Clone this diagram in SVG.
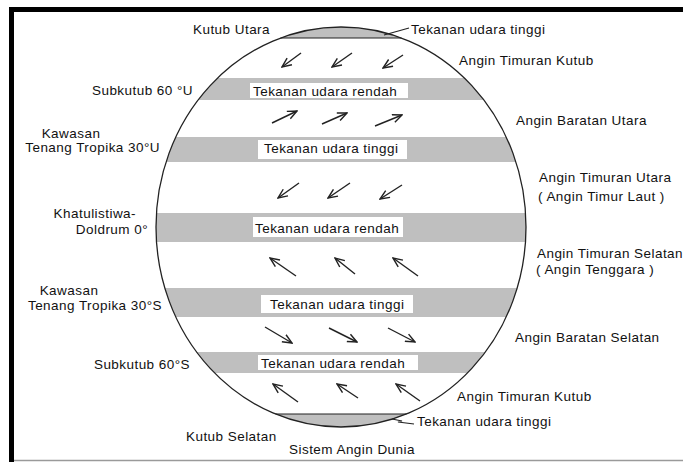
<svg xmlns="http://www.w3.org/2000/svg" width="683" height="462" viewBox="0 0 683 462">
<style>
text{font-family:"Liberation Sans",Arial,sans-serif;font-size:13.5px;letter-spacing:0.45px;fill:#111}
.band{fill:#bfbfbf}
.box{fill:#ffffff}
.line{stroke:#222;stroke-width:1.2;fill:none}
.arr{stroke:#222;stroke-width:1.4;fill:none;marker-end:url(#ah)}
.e{text-anchor:end}
.m{text-anchor:middle}
</style>
<defs>
<clipPath id="globeClip"><ellipse cx="341" cy="227" rx="185" ry="200"/></clipPath>
<marker id="ah" viewBox="0 0 10 10" refX="9" refY="5" markerWidth="11" markerHeight="11" markerUnits="userSpaceOnUse" orient="auto">
<path d="M0.5,1.3 L9,5 L0.5,8.7" fill="none" stroke="#222" stroke-width="1.3"/>
</marker>
</defs>
<rect width="683" height="462" fill="#ffffff"/>
<g id="frame">
<path d="M11.5,462 V9.5 H683" fill="none" stroke="#000" stroke-width="5"/>
<line x1="14" y1="460.5" x2="683" y2="460.5" stroke="#9a9a9a" stroke-width="1.5"/>
</g>
<g id="globe">
<g clip-path="url(#globeClip)">
<rect class="band" x="150" y="20" width="380" height="18"/>
<rect class="band" x="150" y="78" width="380" height="22"/>
<rect class="band" x="150" y="137" width="380" height="25"/>
<rect class="band" x="150" y="213" width="380" height="29"/>
<rect class="band" x="150" y="288" width="380" height="29"/>
<rect class="band" x="150" y="352" width="380" height="21"/>
<rect class="band" x="150" y="414" width="380" height="20"/>
</g>
<line class="line" x1="280.5" y1="38" x2="401.5" y2="38"/>
<line class="line" x1="275.5" y1="414" x2="406.5" y2="414"/>
<ellipse cx="341" cy="227" rx="185" ry="200" fill="none" stroke="#222" stroke-width="1.3"/>
</g>
<g id="band-labels">
<g id="band1"><rect class="box" x="250" y="83" width="158" height="15"/><text x="253" y="96">Tekanan udara rendah</text></g>
<g id="band2"><rect class="box" x="258" y="140" width="149" height="19"/><text x="264" y="153">Tekanan udara tinggi</text></g>
<g id="band3"><rect class="box" x="253" y="217" width="150" height="20"/><text x="255" y="233">Tekanan udara rendah</text></g>
<g id="band4"><rect class="box" x="261" y="295" width="152" height="18"/><text x="270" y="309">Tekanan udara tinggi</text></g>
<g id="band5"><rect class="box" x="258" y="355" width="160" height="15"/><text x="261" y="368">Tekanan udara rendah</text></g>
</g>
<g id="left-labels">
<text x="193" y="34">Kutub Utara</text>
<text class="e" x="193" y="95">Subkutub 60 °U</text>
<text class="m" x="71" y="138">Kawasan</text>
<text class="e" x="160" y="152">Tenang Tropika 30°U</text>
<text class="e" x="136" y="218">Khatulistiwa-</text>
<text class="e" x="148" y="234">Doldrum 0°</text>
<text class="m" x="69" y="295">Kawasan</text>
<text class="e" x="162" y="310">Tenang Tropika 30°S</text>
<text class="e" x="190" y="369">Subkutub 60°S</text>
<text x="186" y="441">Kutub Selatan</text>
<text class="m" x="352" y="454">Sistem Angin Dunia</text>
</g>
<g id="right-labels">
<text x="411" y="34">Tekanan udara tinggi</text>
<text x="459" y="65">Angin Timuran Kutub</text>
<text x="516" y="125">Angin Baratan Utara</text>
<text x="539" y="182">Angin Timuran Utara</text>
<text x="538" y="201">( Angin Timur Laut )</text>
<text x="537" y="258">Angin Timuran Selatan</text>
<text x="536" y="274">( Angin Tenggara )</text>
<text x="515" y="342">Angin Baratan Selatan</text>
<text x="457" y="401">Angin Timuran Kutub</text>
<text x="417" y="426">Tekanan udara tinggi</text>
</g>
<g id="connectors">
<line class="line" x1="384" y1="35" x2="409" y2="28"/>
<polyline class="line" points="392,419 402,421 398,422 414,424"/>
<line class="arr" x1="301" y1="53" x2="282" y2="67"/>
<line class="arr" x1="352" y1="53" x2="332" y2="67"/>
<line class="arr" x1="403" y1="55" x2="383" y2="68"/>
<line class="arr" x1="272" y1="123" x2="297" y2="111"/>
<line class="arr" x1="322" y1="124" x2="347" y2="113"/>
<line class="arr" x1="375" y1="126" x2="402" y2="115"/>
<line class="arr" x1="299" y1="183" x2="278" y2="198"/>
<line class="arr" x1="350" y1="183" x2="328" y2="198"/>
<line class="arr" x1="402" y1="185" x2="380" y2="199"/>
<line class="arr" x1="296" y1="276" x2="270" y2="258"/>
<line class="arr" x1="355" y1="274" x2="335" y2="258"/>
<line class="arr" x1="418" y1="276" x2="393" y2="258"/>
<line class="arr" x1="265" y1="327" x2="292" y2="343"/>
<line class="arr" x1="329" y1="328" x2="357" y2="342"/>
<line class="arr" x1="388" y1="328" x2="415" y2="342"/>
<line class="arr" x1="298" y1="402" x2="273" y2="384"/>
<line class="arr" x1="358" y1="398" x2="337" y2="384"/>
<line class="arr" x1="420" y1="401" x2="396" y2="384"/>
</g>
</svg>
